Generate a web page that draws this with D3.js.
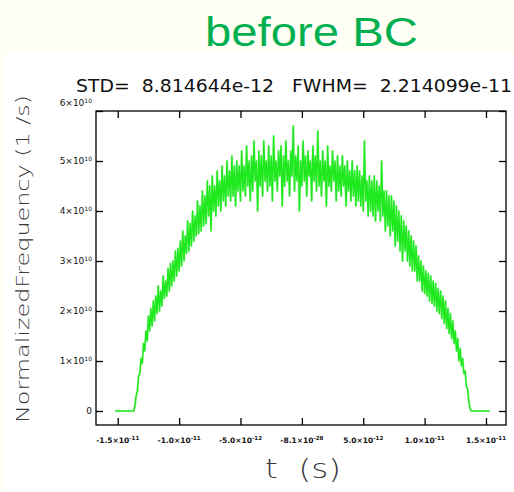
<!DOCTYPE html>
<html><head><meta charset="utf-8">
<script src="https://cdn.jsdelivr.net/npm/d3@7"></script>
<style>html,body{margin:0;padding:0;background:#fffff6;}svg{display:block;}</style>
</head><body>
<script>
// ---- data (values in 1e10 1/s, sampled every 0.1 ps starting at -15.2 ps) ----
const tStartPs = -15.2;
const tStepPs = 0.1;
const freqValues = [
0,0,0,0,0,0,0,0,0,0,0,0,0,0,0,0,
0.1,0.3,0.4,0.7,0.75,1.05,0.95,1.35,1.2,1.6,
1.4,1.9,1.6,2.05,1.7,2.2,1.8,2.3,1.95,2.5,
2.0,2.4,2.1,2.7,2.25,2.6,2.3,2.85,2.4,2.95,
2.5,3.0,2.6,3.2,2.7,3.25,2.8,3.4,2.9,3.6,
3.0,3.5,3.15,3.8,3.2,3.75,3.3,4.0,3.4,3.9,
3.5,4.2,3.55,4.1,3.6,4.4,3.7,4.3,3.75,4.6,
3.9,4.5,3.6,4.7,4.0,4.5,3.9,4.8,4.1,4.6,
4.0,4.9,4.2,4.7,4.1,5.0,4.3,4.8,4.2,5.1,
4.3,4.9,4.1,5.0,4.4,4.9,4.2,5.2,4.4,4.9,
4.3,5.3,4.5,5.0,4.2,5.1,4.4,5.4,4.6,5.0,
4.0,5.2,4.5,5.1,4.3,5.4,4.6,5.0,4.4,5.3,
4.5,5.1,4.2,5.5,4.6,5.0,4.4,5.2,4.7,5.3,
4.1,5.1,4.5,5.4,4.6,5.0,4.3,5.2,4.7,5.7,
4.4,5.1,4.6,5.3,4.0,5.0,4.5,5.4,4.6,5.1,
4.3,5.2,4.7,5.0,4.2,5.3,4.6,5.1,4.4,5.6,
4.5,5.0,4.3,5.2,4.6,5.0,4.1,5.3,4.5,4.9,
4.4,5.2,4.6,5.0,4.2,5.1,4.4,4.9,4.3,5.1,
4.5,4.9,4.1,5.0,4.4,4.8,4.2,5.0,4.3,4.8,
4.1,4.9,4.2,4.8,4.1,4.7,4.0,5.4,4.2,4.6,
3.9,4.7,4.0,4.6,3.9,4.7,3.8,4.6,4.0,4.5,
3.8,5.0,3.9,4.4,3.6,4.4,3.7,4.3,3.5,4.3,
3.6,4.2,3.3,4.1,3.4,4.0,3.2,3.9,3.0,3.8,
3.2,3.7,3.0,3.6,2.9,3.5,2.8,3.4,2.8,3.3,
2.6,3.1,2.6,3.0,2.4,2.9,2.35,2.8,2.3,2.75,
2.2,2.7,2.15,2.6,2.1,2.55,2.0,2.45,1.95,2.4,
1.85,2.3,1.75,2.2,1.65,2.05,1.55,1.95,1.45,1.8,
1.35,1.6,1.2,1.45,1.0,1.25,0.9,1.05,0.75,0.8,
0.5,0.45,0.2,0.05,
0,0,0,0,0,0,0,0,0,0,0,0,0,0,0,0
];
const xTickValues = [-1.5e-11, -1.0e-11, -5.0e-12, -8.1e-28, 5.0e-12, 1.0e-11, 1.5e-11];
const xTickMant = ["-1.5", "-1.0", "-5.0", "-8.1", "5.0", "1.0", "1.5"];
const xTickExp = ["-11", "-11", "-12", "-28", "-12", "-11", "-11"];
const yTickValues = [0, 1e10, 2e10, 3e10, 4e10, 5e10, 6e10];
const yTickMant = ["0", "1", "2", "3", "4", "5", "6"];
const titleText = "before BC";
const subtitleText = "STD=  8.814644e-12   FWHM=  2.214099e-11";
const yLabel = "NormalizedFrequency (1 /s)";
const xLabel = "t  (s)";

const W = 514, H = 492;
const svg = d3.select("body").append("svg").attr("width", W).attr("height", H);
svg.append("rect").attr("width", W).attr("height", H).attr("fill", "#fffff6");
svg.append("rect").attr("x", 4).attr("y", 54).attr("width", W - 4).attr("height", H - 54).attr("fill", "#ffffff");

const plotL = 96, plotR = 506, plotT = 111, plotB = 425;
const x = d3.scaleLinear().domain([-1.677e-11, 1.663e-11]).range([plotL, plotR]);
const y = d3.scaleLinear().domain([-0.28e10, 6e10]).range([plotB, plotT]);

const data = freqValues.map((v, i) => ({ t: (tStartPs + i * tStepPs) * 1e-12, v: v * 1e10 }));

// soft glow + curve
const line = d3.line().x(d => x(d.t)).y(d => y(d.v));
svg.append("path").datum(data)
  .attr("fill", "none").attr("stroke", "#9af59a").attr("stroke-width", 2.6).attr("stroke-opacity", 0.45)
  .attr("stroke-linejoin", "round").attr("d", line);
svg.append("path").datum(data)
  .attr("fill", "none").attr("stroke", "#1fe81f").attr("stroke-width", 1.5)
  .attr("stroke-linejoin", "round").attr("d", line);

// axes (inward ticks on all sides)
const tickLen = 7;
const gB = svg.append("g").attr("transform", `translate(0,${plotB})`)
  .call(d3.axisBottom(x).tickValues(xTickValues).tickSizeInner(-tickLen).tickSizeOuter(0).tickFormat(""));
const gT = svg.append("g").attr("transform", `translate(0,${plotT})`)
  .call(d3.axisTop(x).tickValues(xTickValues).tickSizeInner(-tickLen).tickSizeOuter(0).tickFormat(""));
const gL = svg.append("g").attr("transform", `translate(${plotL},0)`)
  .call(d3.axisLeft(y).tickValues(yTickValues).tickSizeInner(-tickLen).tickSizeOuter(0).tickFormat(""));
const gR = svg.append("g").attr("transform", `translate(${plotR},0)`)
  .call(d3.axisRight(y).tickValues(yTickValues).tickSizeInner(-tickLen).tickSizeOuter(0).tickFormat(""));
[gB, gT, gL, gR].forEach(g => { g.select(".domain").remove(); g.selectAll(".tick line").attr("stroke", "#000").attr("stroke-width", 1.3); });

svg.append("rect").attr("x", plotL).attr("y", plotT).attr("width", plotR - plotL).attr("height", plotB - plotT)
  .attr("fill", "none").attr("stroke", "#000").attr("stroke-width", 1.3);

// x tick labels
const font = "'DejaVu Sans', sans-serif";
xTickValues.forEach((v, i) => {
  const t = svg.append("text").attr("x", x(v)).attr("y", 443).attr("text-anchor", "middle")
    .attr("font-family", font).attr("font-size", 7.5).attr("font-weight", "bold").attr("fill", "#111");
  t.append("tspan").text(xTickMant[i] + "×10");
  t.append("tspan").attr("dy", -3).attr("font-size", 5.5).text(xTickExp[i]);
});
// y tick labels
yTickValues.forEach((v, i) => {
  const t = svg.append("text").attr("x", 92).attr("y", y(v) + (i === 6 ? -5 : 3)).attr("text-anchor", "end")
    .attr("font-family", font).attr("font-size", 9).attr("fill", "#111");
  if (v === 0) { t.text(yTickMant[i]); return; }
  t.append("tspan").text(yTickMant[i] + "×10");
  t.append("tspan").attr("dy", -3).attr("font-size", 6).text("10");
});

// titles
svg.append("text").attr("x", 205).attr("y", 46).attr("textLength", 213).attr("lengthAdjust", "spacingAndGlyphs")
  .attr("font-family", "'Liberation Sans', Arial, sans-serif").attr("font-size", 40).attr("fill", "#00b050").text(titleText);
svg.append("text").attr("x", 76).attr("y", 92).attr("textLength", 436).attr("lengthAdjust", "spacingAndGlyphs")
  .attr("font-family", font).attr("font-size", 17).attr("fill", "#111").style("white-space", "pre").text(subtitleText);
svg.append("text").attr("transform", "translate(29,259) rotate(-90)").attr("text-anchor", "middle")
  .attr("textLength", 328).attr("lengthAdjust", "spacingAndGlyphs")
  .attr("font-family", font).attr("font-size", 18).attr("font-weight", 300).attr("fill", "#3a3a3a").text(yLabel);
svg.append("text").attr("x", 265).attr("y", 478).attr("textLength", 76).attr("lengthAdjust", "spacingAndGlyphs")
  .attr("font-family", font).attr("font-size", 26).attr("font-weight", 300).attr("fill", "#3a3a3a").style("white-space", "pre").text(xLabel);
</script>
</body></html>
